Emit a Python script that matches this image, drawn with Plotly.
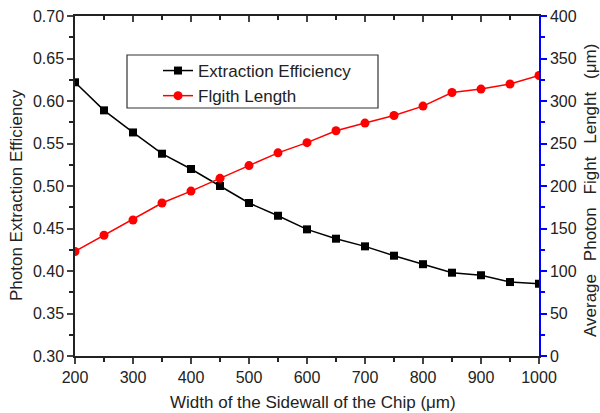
import plotly.graph_objects as go

width_um = [200, 250, 300, 350, 400, 450, 500, 550, 600, 650, 700, 750, 800, 850, 900, 950, 1000]
extraction_eff = [0.622, 0.589, 0.563, 0.538, 0.520, 0.500, 0.480, 0.465, 0.449, 0.438,
                  0.429, 0.418, 0.408, 0.398, 0.395, 0.387, 0.385]
flight_length = [123, 142, 160, 180, 194, 209, 224, 239, 251, 265, 274, 283, 294, 310, 314, 320, 330]

left_ticks = [0.30, 0.35, 0.40, 0.45, 0.50, 0.55, 0.60, 0.65, 0.70]
right_ticks = [0, 50, 100, 150, 200, 250, 300, 350, 400]
x_ticks = [200, 300, 400, 500, 600, 700, 800, 900, 1000]

x_title = "Width of the Sidewall of the Chip (μm)"
y_title = "Photon Extraction Efficiency"
y2_title = "\u00a0\u00a0\u2009".join(["Average", "Photon", "Fight", "Lenght", "(μm)"])

FONT = "Liberation Sans, Arial, sans-serif"
TXT = "#222"

fig = go.Figure()
fig.add_trace(go.Scatter(x=width_um, y=extraction_eff, name="Extraction Efficiency",
                         mode="lines+markers", line=dict(color="black", width=1.5),
                         marker=dict(symbol="square", size=8, color="black"), yaxis="y"))
fig.add_trace(go.Scatter(x=width_um, y=flight_length, name="Flgith Length",
                         mode="lines+markers", line=dict(color="red", width=1.5),
                         marker=dict(symbol="circle", size=9, color="red"), yaxis="y2"))
fig.add_trace(go.Scatter(x=[None], y=[None], xaxis="x2", showlegend=False, hoverinfo="skip"))

fig.update_layout(
    width=600, height=413,
    margin=dict(l=75, r=61, t=16, b=57),
    paper_bgcolor="white", plot_bgcolor="white",
    font=dict(family=FONT, size=16, color=TXT),
    showlegend=True,
    legend=dict(x=(158 - 75) / 464, y=(356 - 53) / 340, xanchor="left", yanchor="top",
                borderwidth=0, bgcolor="rgba(0,0,0,0)",
                font=dict(size=17), tracegroupgap=0, traceorder="normal"),
    xaxis=dict(range=[200, 1000], tickvals=x_ticks, ticks="outside", ticklen=6,
               tickwidth=1.5, showline=True, linecolor="#222", linewidth=1.5,
               showgrid=False, zeroline=False, automargin=False,
               minor=dict(dtick=50, ticks="outside", ticklen=4, tickwidth=1.5, tickcolor="#222"),
               tickfont=dict(size=16)),
    xaxis2=dict(range=[200, 1000], overlaying="x", side="top", tickvals=x_ticks,
                ticks="inside", ticklen=6, tickwidth=1.5, showticklabels=False,
                showline=True, linecolor="#222", linewidth=1.5, showgrid=False,
                zeroline=False, automargin=False,
                minor=dict(dtick=50, ticks="inside", ticklen=4, tickwidth=1.5, tickcolor="#222")),
    yaxis=dict(range=[0.30, 0.70], tickvals=left_ticks, tickformat=".2f",
               ticks="outside", ticklen=6, tickwidth=1.5, showline=True,
               linecolor="#222", linewidth=1.5, showgrid=False, zeroline=False,
               automargin=False,
               minor=dict(dtick=0.025, ticks="outside", ticklen=4, tickwidth=1.5, tickcolor="#222"),
               tickfont=dict(size=16)),
    yaxis2=dict(range=[0, 400], tickvals=right_ticks, overlaying="y", side="right",
                ticks="outside", ticklen=6, tickwidth=1.5, tickcolor="blue",
                showline=True, linecolor="blue", linewidth=1.5, showgrid=False,
                zeroline=False, automargin=False,
                minor=dict(dtick=25, ticks="outside", ticklen=4, tickwidth=1.5, tickcolor="blue"),
                tickfont=dict(size=16)),
    shapes=[dict(type="rect", xref="paper", yref="paper",
                 x0=(127 - 75) / 464, x1=(378 - 75) / 464,
                 y0=(356 - 108) / 340, y1=(356 - 55) / 340,
                 line=dict(color="#333", width=1.2), fillcolor="rgba(0,0,0,0)", layer="above")],
    annotations=[
        dict(text=x_title, xref="paper", yref="paper", x=(313 - 75) / 464, y=(356 - 402) / 340,
             xanchor="center", yanchor="middle", showarrow=False, font=dict(size=17)),
        dict(text=y_title, xref="paper", yref="paper", x=(16 - 75) / 464, y=(356 - 195) / 340,
             xanchor="center", yanchor="middle", textangle=-90, showarrow=False, font=dict(size=17)),
        dict(text=y2_title, xref="paper", yref="paper", x=(591 - 75) / 464, y=(356 - 191) / 340,
             xanchor="center", yanchor="middle", textangle=-90, showarrow=False, font=dict(size=17)),
    ],
)

fig.write_html("out.html", config={"displayModeBar": False},
               post_script="document.body.style.margin='0';")
